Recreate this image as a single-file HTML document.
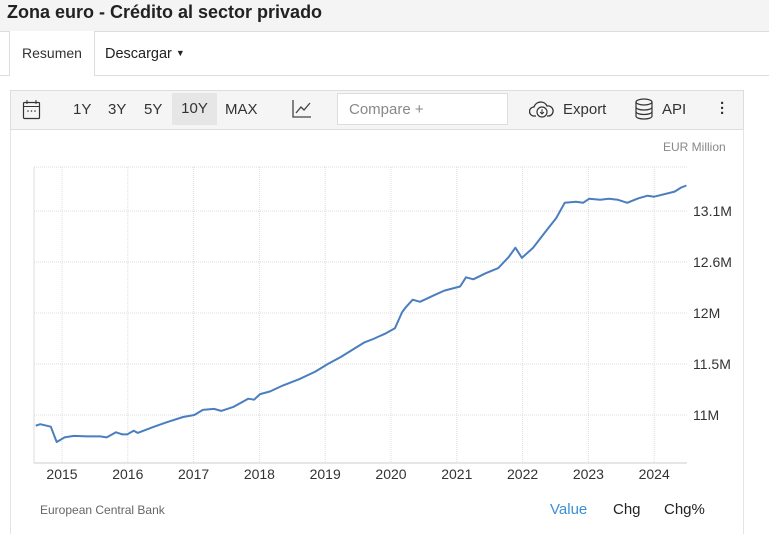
<!DOCTYPE html>
<html><head><meta charset="utf-8">
<style>
body{margin:0;width:769px;height:533px;overflow:hidden;background:#fff;font-family:"Liberation Sans",Arial,sans-serif;color:#333;position:relative}
.abs{position:absolute}
</style></head><body>
<div class="abs" style="left:0;top:0;width:769px;height:31px;background:#f4f4f4;border-bottom:1px solid #ddd"></div>
<div class="abs" style="left:7px;top:2px;font-size:18px;font-weight:bold;color:#222">Zona euro - Crédito al sector privado</div>
<div class="abs" style="left:0;top:75px;width:769px;height:1px;background:#ddd"></div>
<div class="abs" style="left:9px;top:31px;width:84px;height:45px;background:#fff;border-left:1px solid #ddd;border-right:1px solid #ddd;font-size:14px;line-height:44px;text-align:center">Resumen</div>
<div class="abs" style="left:105px;top:31px;font-size:14.5px;line-height:44px;color:#222">Descargar <span style="font-size:9px;vertical-align:2px">▼</span></div>
<div class="abs" style="left:10px;top:90px;width:732px;height:443px;border:1px solid #e4e4e4;border-bottom:none"></div>
<div class="abs" style="left:10px;top:90px;width:732px;height:38px;background:#f5f5f5;border:1px solid #ddd"></div>
<svg class="abs" style="left:22px;top:99px" width="20" height="21"><rect x="1.5" y="3.5" width="16" height="16" rx="1" fill="none" stroke="#333" stroke-width="1.2"/><line x1="1.5" y1="7.5" x2="17.5" y2="7.5" stroke="#333"/><line x1="5" y1="1" x2="5" y2="5" stroke="#333"/><line x1="14" y1="1" x2="14" y2="5" stroke="#333"/><circle cx="6" cy="12" r=".8" fill="#333"/><circle cx="9.5" cy="12" r=".8" fill="#333"/><circle cx="13" cy="12" r=".8" fill="#333"/></svg>
<div class="abs" style="left:73px;top:101px;font-size:15px">1Y</div>
<div class="abs" style="left:108px;top:101px;font-size:15px">3Y</div>
<div class="abs" style="left:144px;top:101px;font-size:15px">5Y</div>
<div class="abs" style="left:172px;top:93px;width:45px;height:32px;background:#e6e6e6;font-size:15px;line-height:32px;text-align:center">10Y</div>
<div class="abs" style="left:225px;top:101px;font-size:15px">MAX</div>
<svg class="abs" style="left:291px;top:99px" width="22" height="20"><path d="M2 1V18H20" fill="none" stroke="#444" stroke-width="1.3"/><path d="M5 14L10 8L13 11L19 4" fill="none" stroke="#444" stroke-width="1.3"/></svg>
<div class="abs" style="left:337px;top:93px;width:170px;height:32px;background:#fff;border:1px solid #ddd;font-size:15px;line-height:32px;color:#888;padding-left:11px;box-sizing:border-box;width:171px">Compare +</div>
<svg class="abs" style="left:529px;top:99px" width="26" height="20"><path d="M7 17H5a4.5 4.5 0 0 1 0-9 7 7 0 0 1 13-1 5 5 0 0 1 2 10h-2" fill="none" stroke="#333" stroke-width="1.3"/><circle cx="13" cy="13" r="5" fill="#fff" stroke="#333" stroke-width="1.2"/><path d="M13 10v5M11 13l2 2 2-2" fill="none" stroke="#333"/></svg>
<div class="abs" style="left:563px;top:101px;font-size:15px">Export</div>
<svg class="abs" style="left:634px;top:98px" width="20" height="22"><ellipse cx="10" cy="4" rx="8" ry="3" fill="none" stroke="#333" stroke-width="1.2"/><path d="M2 4v14c0 4 16 4 16 0V4M2 9c0 4 16 4 16 0M2 13.5c0 4 16 4 16 0" fill="none" stroke="#333" stroke-width="1.2"/></svg>
<div class="abs" style="left:662px;top:101px;font-size:15px">API</div>
<div class="abs" style="left:720px;top:101px;width:4px;font-size:15px;line-height:5px;font-weight:bold">·<br>·<br>·</div>
<div class="abs" style="left:663px;top:140px;font-size:12px;color:#888">EUR Million</div>

<svg class="abs" id="chart" style="left:0;top:0" width="769" height="533"></svg>

<div class="abs" style="left:40px;top:503px;font-size:12px;color:#666">European Central Bank</div>
<div class="abs" style="left:550px;top:501px;font-size:15px;color:#3a8fd9">Value</div>
<div class="abs" style="left:613px;top:501px;font-size:15px;color:#222">Chg</div>
<div class="abs" style="left:664px;top:501px;font-size:15px;color:#222">Chg%</div>

<script>
const yearTicks=[2015,2016,2017,2018,2019,2020,2021,2022,2023,2024];
const yTickValues=[11,11.5,12,12.5,13];
const yTickLabels=["11M","11.5M","12M","12.6M","13.1M"];
const dates=[2014.60,2014.67,2014.83,2014.92,2015.04,2015.18,2015.38,2015.58,2015.68,2015.82,2015.92,2015.99,2016.09,2016.15,2016.40,2016.60,2016.84,2017.01,2017.14,2017.31,2017.42,2017.61,2017.83,2017.92,2018.01,2018.16,2018.36,2018.60,2018.85,2019.04,2019.24,2019.59,2019.73,2019.92,2020.06,2020.17,2020.23,2020.33,2020.44,2020.64,2020.81,2021.05,2021.14,2021.25,2021.44,2021.63,2021.79,2021.89,2021.99,2022.16,2022.37,2022.51,2022.64,2022.81,2022.92,2023.01,2023.18,2023.31,2023.45,2023.59,2023.76,2023.90,2024.00,2024.31,2024.41,2024.49];
const values=[10.895,10.91,10.885,10.735,10.78,10.795,10.79,10.79,10.78,10.83,10.81,10.81,10.845,10.825,10.885,10.93,10.98,11.0,11.05,11.06,11.04,11.08,11.16,11.15,11.205,11.23,11.29,11.35,11.425,11.5,11.57,11.71,11.745,11.8,11.85,12.01,12.06,12.13,12.11,12.17,12.22,12.26,12.35,12.33,12.39,12.44,12.55,12.64,12.54,12.64,12.815,12.93,13.08,13.09,13.08,13.12,13.11,13.12,13.11,13.08,13.125,13.15,13.14,13.19,13.23,13.25];

const L=34,R=687,T=167,B=463;
const xs=y=>62+(y-2015)*65.8;
const ys=v=>415-(v-11)*102;
const svg=document.getElementById('chart');
const NS='http://www.w3.org/2000/svg';
function mk(t,a){const e=document.createElementNS(NS,t);for(const k in a)e.setAttribute(k,a[k]);svg.appendChild(e);return e;}

yTickValues.forEach((v,i)=>{
  const g=mk('line',{x1:L,x2:R,y1:ys(v),y2:ys(v),stroke:'#ddd','stroke-dasharray':'1,1'});
  
  
  const t=mk('text',{x:693,y:ys(v)+5,'font-size':14,fill:'#333','font-family':'Liberation Sans, sans-serif'});
  t.textContent=yTickLabels[i];
  
  
});
const tg=mk('line',{x1:L,x2:R,y1:T,y2:T,stroke:'#ddd','stroke-dasharray':'1,1'});


yearTicks.forEach(y=>{
  const g=mk('line',{x1:xs(y),x2:xs(y),y1:T,y2:B,stroke:'#ddd','stroke-dasharray':'1,1'});
  
  
  const t=mk('text',{x:xs(y),y:479,'font-size':14,fill:'#333','text-anchor':'middle','font-family':'Liberation Sans, sans-serif'});
  t.textContent=y;
  
  
});
const ax=mk('line',{x1:L,x2:R,y1:B,y2:B,stroke:'#ccc'});


const ay=mk('line',{x1:L,x2:L,y1:T,y2:B,stroke:'#ddd'});


const d=dates.map((t,i)=>(i?'L':'M')+Math.max(L,xs(t)).toFixed(1)+' '+ys(values[i]).toFixed(1)).join(' ');
const p=mk('path',{d:d,fill:'none',stroke:'#4a7ebf','stroke-width':2,'stroke-linejoin':'round'});


</script>
</body></html>
